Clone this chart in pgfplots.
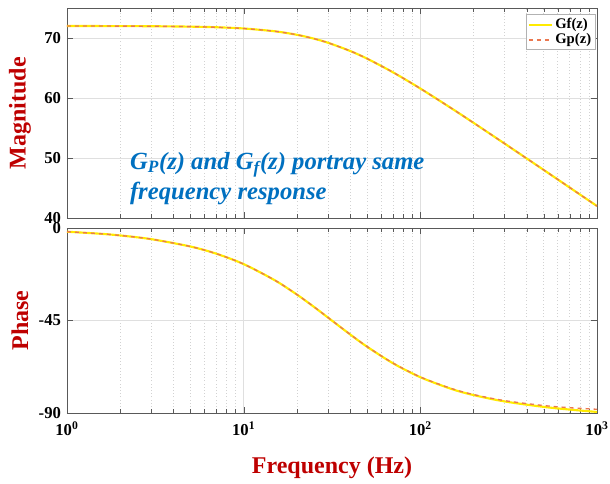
\documentclass[border=0pt]{standalone}
\usepackage{pgfplots}
\pgfplotsset{compat=1.18}
\usepackage{fontspec}
\setmainfont{Liberation Serif}
\definecolor{gfcol}{RGB}{255,235,0}
\definecolor{gpcol}{RGB}{235,120,80}
\definecolor{labred}{RGB}{190,0,0}
\definecolor{annblue}{RGB}{0,112,192}
\pgfplotstableread{
f mag ph
1 71.996 -1.81
1.5 71.990 -2.72
2 71.983 -3.62
3 71.961 -5.42
5 71.893 -9.00
7 71.792 -12.49
10 71.586 -17.56
15 71.118 -25.40
20 70.538 -32.33
25 69.889 -38.35
30 69.210 -43.52
40 67.847 -51.69
50 66.555 -57.71
70 64.286 -65.70
100 61.580 -72.46
150 58.284 -78.10
200 55.866 -81.02
300 52.403 -83.99
500 47.998 -86.38
700 45.083 -87.42
1000 41.990 -88.19
}\gpdata
\pgfplotstableread{
f mag ph
1 71.996 -1.81
1.5 71.990 -2.72
2 71.983 -3.62
3 71.961 -5.43
5 71.893 -9.01
7 71.792 -12.50
10 71.586 -17.57
15 71.118 -25.42
20 70.538 -32.36
25 69.889 -38.38
30 69.210 -43.56
40 67.847 -51.74
50 66.555 -57.78
70 64.286 -65.79
100 61.580 -72.59
150 58.284 -78.30
200 55.866 -81.28
300 52.403 -84.38
500 47.998 -87.03
700 45.083 -88.33
1000 41.990 -89.49
}\gfdata
\pgfplotsset{
  every axis/.append style={
    scale only axis, width=397.5pt, xmode=log, xmin=1, xmax=1000,
    axis line style={gray!70!black, line width=0.6pt},
    tick style={gray!70!black},
    major grid style={gray!25, line width=0.5pt},
    minor grid style={gray!35, dotted, line width=0.5pt},
    xmajorgrids, xminorgrids, ymajorgrids,
    tick label style={font=\fontsize{12.5}{14}\selectfont\bfseries},
    every axis y label/.style={at={(axis description cs:-0.0887,0.5)}, rotate=90, anchor=center,
      font=\fontsize{18}{20}\selectfont\bfseries, text=labred},
    every axis x label/.style={at={(axis description cs:0.5,-0.295)}, anchor=center,
      font=\fontsize{18}{20}\selectfont\bfseries, text=labred},
    yticklabel style={xshift=-1pt},
  }
}
\begin{document}
\begin{tikzpicture}
\begin{axis}[name=top, at={(0,0)}, anchor=north west, height=157.5pt,
  ymin=40, ymax=75, ytick={40,50,60,70}, yticklabels={40,50,60,70},
  xticklabels={}, ylabel={Magnitude},
  legend style={at={(0.997,0.97)}, anchor=north east, draw=gray!60, font=\fontsize{11}{13}\selectfont\bfseries, inner sep=1pt, row sep=-2pt},
  legend cell align=left]
\addplot[gfcol, line width=1.6pt, smooth] table[x=f, y=mag] {\gfdata};
\addlegendentry{Gf(z)}
\addplot[gpcol, line width=1.0pt, dashed, smooth, legend image post style={line width=1.3pt}] table[x=f, y=mag] {\gpdata};
\addlegendentry{Gp(z)}
\node[anchor=west, align=left, text=annblue, font=\fontsize{18.5}{22.5}\selectfont\bfseries\itshape] at (axis description cs:0.11,0.19)
  {G\textsubscript{P}(z) and G\textsubscript{f}(z) portray same\\frequency response};
\end{axis}
\begin{axis}[name=bot, at={(0,-165pt)}, anchor=north west, height=138.75pt,
  ymin=-90, ymax=0, ytick={-90,-45,0}, yticklabels={-90,-45,0},
  xtick={1,10,100,1000},
  xticklabels={10\textsuperscript{0},10\textsuperscript{1},10\textsuperscript{2},10\textsuperscript{3}},
  xticklabel style={yshift=-3pt},
  ylabel={Phase},
  xlabel={Frequency (Hz)}]
\addplot[gfcol, line width=1.6pt, smooth] table[x=f, y=ph] {\gfdata};
\addplot[gpcol, line width=1.0pt, dashed, smooth] table[x=f, y=ph] {\gpdata};
\end{axis}
\pgfresetboundingbox
\path[use as bounding box] (-50.25pt,6pt) rectangle (407.25pt,-356.25pt);
\end{tikzpicture}
\end{document}
